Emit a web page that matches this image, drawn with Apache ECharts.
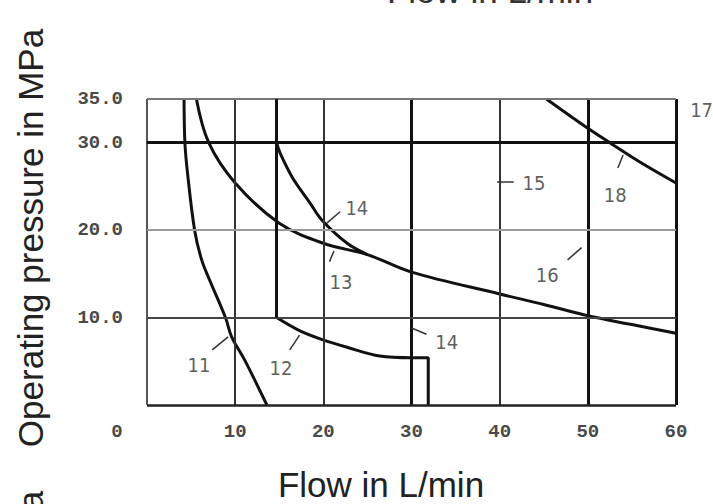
<!DOCTYPE html>
<html><head><meta charset="utf-8">
<script src="https://cdn.jsdelivr.net/npm/echarts@6/dist/echarts.min.js"></script>
<style>html,body{margin:0;padding:0;background:#fff}#c{width:713px;height:504px}</style>
</head><body><div id="c"></div>
<script>
// ---- data ----
const xTickValues = [0, 10, 20, 30, 40, 50, 60];
const yTickValues = [10, 20, 30, 35];
const curve11 = [[4.2,35],[4.3,30],[4.6,26.5],[5.4,20],[6.2,16.6],[7.1,14.3],[8.9,10],[9.6,7.8],[11.1,5.1],[13.6,0]];
const curve16 = [[5.6,35],[7.0,30],[10,25.4],[15,20.8],[20,18.5],[25,17.2],[30,15.2],[40,12.7],[45,11.5],[50,10.2],[55,9.2],[60,8.2]];
const curve14 = [[14.7,30],[15.1,28.8],[16.5,26],[18.5,23.1],[19.8,21.2],[22.7,18.5],[25,17.2]];
const curve12 = [[14.7,10],[17.3,8.5],[19.8,7.5],[22.7,6.6],[26.4,5.6],[30,5.4]];
const step14 = [[30,5.4],[31.9,5.4],[31.9,0]];
const curve18 = [[45.3,35],[49.5,32],[52.5,30],[55.9,27.8],[60,25.4]];
const lightGridX = [10, 20, 40];
const heavyLinesX = [30, 50, 60];
const partialLine15 = [[14.7,10],[14.7,35]];
const labelNames = ['11','12','13','14','14','15','16','17','18'];
const labelX = [5.9, 15.2, 22.0, 23.8, 34.0, 43.9, 45.4, 62.9, 53.1];
const labelY = [4.6, 4.2, 14.1, 22.5, 7.2, 25.4, 14.9, 33.7, 24.0];
const leaders = [
  [[7.4,6.3],[9.2,7.8]],
  [[16.2,6.3],[17.3,8.0]],
  [[20.7,16.4],[21.2,17.6]],
  [[20.4,20.8],[21.9,22.1]],
  [[30.0,8.8],[31.7,8.1]],
  [[39.7,25.5],[41.6,25.5]],
  [[47.7,16.6],[49.3,18.0]],
  [[60.1,31.8],[61.2,32.9]],
  [[53.4,27.1],[54.0,28.6]]
];
const xTitle = 'Flow in L/min';
const yTitle = 'Operating pressure in MPa';

// ---- chart ----
const chart = echarts.init(document.getElementById('c'), null, {renderer: 'svg'});
const tickFont = {fontFamily: 'Liberation Mono', fontSize: 19, fontWeight: 'bold', color: '#4a4a4a'};
const black = '#111';
function ls(color, width) { return {color: color, width: width, type: 'solid'}; }

const markLines = [];
lightGridX.forEach(v => markLines.push({xAxis: v, lineStyle: ls('#333', 2)}));
heavyLinesX.forEach(v => markLines.push({xAxis: v, lineStyle: ls(black, 3)}));
markLines.push({xAxis: 0, lineStyle: ls('#555', 2)});
markLines.push({yAxis: 35, lineStyle: ls('#777', 2)});
markLines.push({yAxis: 30, lineStyle: ls(black, 3)});
markLines.push({yAxis: 20, lineStyle: ls('#9a9a9a', 2)});
markLines.push({yAxis: 10, lineStyle: ls('#444', 2)});
markLines.push({yAxis: 0, lineStyle: ls('#222', 2.5)});
markLines.push([{coord: partialLine15[0], lineStyle: ls(black, 3)}, {coord: partialLine15[1]}]);
leaders.forEach(l => markLines.push([{coord: l[0], lineStyle: ls('#333', 1.5)}, {coord: l[1]}]));

function curve(data) {
  return {type: 'line', data: data, smooth: 0.35, symbol: 'none', silent: true,
    lineStyle: {color: black, width: 3}, z: 3};
}

chart.setOption({
  animation: false,
  grid: {left: 147, right: 37, top: 99, bottom: 99},
  xAxis: {type: 'value', min: 0, max: 60, interval: 10,
    axisLine: {show: false}, axisTick: {show: false}, splitLine: {show: false},
    axisLabel: Object.assign({margin: 17, formatter: v => v === 0 ? '{z|0}' : (xTickValues.indexOf(v) >= 0 ? String(v) : ''),
      rich: {z: Object.assign({padding: [0, 60, 0, 0]}, tickFont)}}, tickFont)},
  yAxis: {type: 'value', min: 0, max: 35, interval: 5,
    axisLine: {show: false}, axisTick: {show: false}, splitLine: {show: false},
    axisLabel: Object.assign({margin: 24, formatter: v => yTickValues.indexOf(v) >= 0 ? v.toFixed(1) : ''}, tickFont)},
  graphic: [
    {type: 'text', x: 381, y: 484, silent: true,
      style: {text: xTitle, font: '35px "Liberation Sans"', fill: '#222', align: 'center', verticalAlign: 'middle'}},
    {type: 'text', x: 490, y: -10, silent: true,
      style: {text: xTitle, font: '35px "Liberation Sans"', fill: '#333', align: 'center', verticalAlign: 'middle'}},
    {type: 'text', x: 30, y: 238, rotation: Math.PI / 2, silent: true,
      style: {text: yTitle, font: '35px "Liberation Sans"', fill: '#222', align: 'center', verticalAlign: 'middle'}},
    {type: 'text', x: 30, y: 700, rotation: Math.PI / 2, silent: true,
      style: {text: yTitle, font: '35px "Liberation Sans"', fill: '#222', align: 'center', verticalAlign: 'middle'}}
  ],
  series: [
    {type: 'line', data: [], silent: true,
      markLine: {silent: true, symbol: 'none', label: {show: false}, animation: false, data: markLines}},
    curve(curve11), curve(curve16), curve(curve14), curve(curve12), curve(curve18),
    {type: 'line', data: step14, symbol: 'none', silent: true, lineStyle: {color: black, width: 3}, z: 3},
    {type: 'scatter', clip: false, symbolSize: 0, silent: true,
      data: labelNames.map((n, i) => ({name: n, value: [labelX[i], labelY[i]]})),
      label: {show: true, position: 'inside', formatter: p => p.name,
        fontFamily: '"Liberation Sans Narrow","DejaVu Sans Condensed","Liberation Sans"', fontSize: 20, color: '#333'}}
  ]
});
</script></body></html>
